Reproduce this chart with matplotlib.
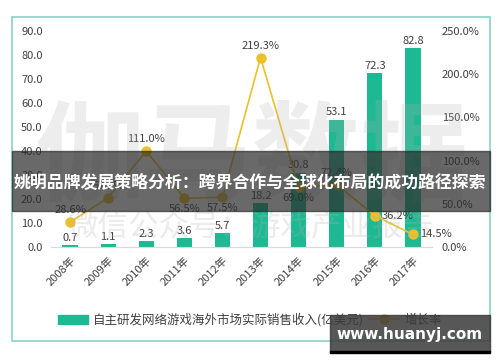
import numpy as np
import matplotlib.pyplot as plt
from matplotlib.patches import Rectangle
from matplotlib.lines import Line2D
from matplotlib.patches import Patch

plt.rcParams['font.family'] = ['Noto Sans CJK SC', 'DejaVu Sans']

years = ['2008年', '2009年', '2010年', '2011年', '2012年',
         '2013年', '2014年', '2015年', '2016年', '2017年']
revenue = [0.7, 1.1, 2.3, 3.6, 5.7, 18.2, 30.8, 53.1, 72.3, 82.8]
growth = [28.6, 57.1, 111.0, 56.5, 57.5, 219.3, 69.0, 72.4, 36.2, 14.5]
# where each growth label sits relative to its point
label_pos = ['up', 'up', 'up', 'down', 'down', 'up', 'down', 'up', 'right', 'right']

title = '姚明品牌发展策略分析：跨界合作与全球化布局的成功路径探索'
bar_name = '自主研发网络游戏海外市场实际销售收入(亿美元)'
line_name = '增长率'

bar_col = '#1DB992'
line_col = '#EBC02A'
txt_col = '#404040'

fig = plt.figure(figsize=(5, 3.62), dpi=100)
W, H = 500, 362

def fx(px):
    return px / W

def fy(py):
    return 1 - py / H

# outer frame
fig.patches.append(Rectangle((fx(12), fy(341)), fx(490) - fx(12), fy(17) - fy(341),
                             transform=fig.transFigure, fill=False,
                             edgecolor='#86D3C7', lw=1.2, zorder=0))

ax = fig.add_axes([fx(51), fy(247), fx(432) - fx(51), fy(31) - fy(247)])
x = np.arange(len(years))
ax.bar(x, revenue, width=0.4, color=bar_col, zorder=2)
ax.set_xlim(-0.5, len(years) - 0.5)
ax.set_ylim(0, 90)
ax.set_yticks(np.arange(0, 91, 10))
ax.set_yticklabels(['%.1f' % v for v in np.arange(0, 91, 10)])
ax.set_xticks(x)
ax.set_xticklabels(years, rotation=45, ha='right', rotation_mode='anchor')
ax.tick_params(length=0, labelsize=8, colors=txt_col, pad=6)
for s in ['top', 'right', 'left']:
    ax.spines[s].set_visible(False)
ax.spines['bottom'].set_color('#d9d9d9')
for xi, v in zip(x, revenue):
    ax.annotate('%.1f' % v, (xi, v), xytext=(0, 2), textcoords='offset points',
                ha='center', va='bottom', fontsize=8, color=txt_col)

ax2 = ax.twinx()
ax2.plot(x, growth, color=line_col, lw=1.2, marker='o', ms=6.5, zorder=3)
ax2.set_ylim(0, 250)
ax2.set_yticks(np.arange(0, 251, 50))
ax2.set_yticklabels(['%.1f%%' % v for v in np.arange(0, 251, 50)])
ax2.tick_params(length=0, labelsize=8, colors=txt_col, pad=7)
for s in ax2.spines.values():
    s.set_visible(False)
for xi, v, p in zip(x, growth, label_pos):
    if p == 'up':
        off, ha, va = (0, 5), 'center', 'bottom'
    elif p == 'down':
        off, ha, va = (0, -4), 'center', 'top'
    else:
        off, ha, va = (5, 0), 'left', 'center'
    ax2.annotate('%.1f%%' % v, (xi, v), xytext=off, textcoords='offset points',
                 ha=ha, va=va, fontsize=8, color=txt_col)

# watermarks
fig.text(fx(252), fy(160), '伽马数据', fontsize=78, fontweight='bold',
         color='#b0b0b0', alpha=0.22, ha='center', va='center', zorder=5)
fig.text(fx(250), fy(227), '微信公众号：游戏产业报告', fontsize=22,
         color='#b0b0b0', alpha=0.25, ha='center', va='center', zorder=5)

# legend
handles = [Patch(color=bar_col),
           Line2D([0], [0], color=line_col, marker='o', ms=6.5, lw=1.2)]
fig.legend(handles, [bar_name, line_name], loc='center', bbox_to_anchor=(fx(250), fy(320)),
           ncol=2, frameon=False, fontsize=9, handlelength=2.4, columnspacing=0.4,
           handletextpad=0.4, labelcolor=txt_col)

# title banner
fig.patches.append(Rectangle((fx(12), fy(211)), fx(490) - fx(12), fy(151) - fy(211),
                             transform=fig.transFigure, color='#2a2a2a', alpha=0.7,
                             zorder=6))
fig.text(fx(250), fy(183), title, fontsize=12.2, fontweight='bold', color='white',
         ha='center', va='center', zorder=7)

# site box
fig.patches.append(Rectangle((fx(330), fy(352)), fx(490) - fx(330), fy(315) - fy(352),
                             transform=fig.transFigure, color='#3a3a3a', alpha=0.85,
                             zorder=6))
fig.patches.append(Rectangle((fx(330), fy(353)), fx(490) - fx(330), fy(351) - fy(353),
                             transform=fig.transFigure, color='black', zorder=6))
fig.text(fx(410), fy(334), 'www.huanyj.com', fontsize=11, fontweight='bold',
         color='white', ha='center', va='center', zorder=7, family='DejaVu Sans')

fig.savefig('out.png', dpi=100)
